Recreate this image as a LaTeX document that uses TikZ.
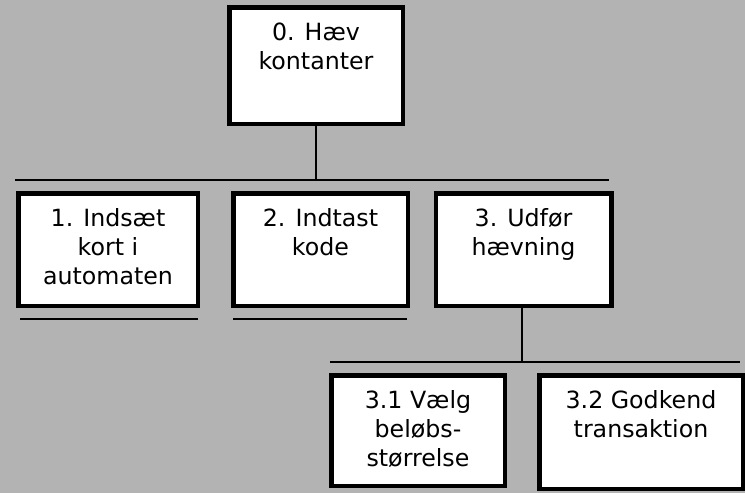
\documentclass[tikz,border=0pt]{standalone}
\usepackage{fontspec}
\setmainfont{DejaVu Sans}
\usepackage{tikz}
\usetikzlibrary{positioning}
\definecolor{panel}{RGB}{179,179,179}
\tikzstyle{task}=[draw=black,fill=white,line width=4.5pt,rectangle,inner sep=0pt]
\tikzstyle{tasktext}=[align=center,inner sep=0pt,font=\fontsize{23.7}{29}\selectfont]
\tikzstyle{rule}=[line width=2pt]

\begin{document}
\begin{tikzpicture}[x=1pt,y=-1pt]
        \useasboundingbox (0,0) rectangle (745,493);
        \fill[panel] (0,0) rectangle (745,493);
        % boxes
        \node[task,minimum width=173.5pt,minimum height=116.5pt] (b0) at (316,65.5) {};
        \node[task,minimum width=179.5pt,minimum height=112.5pt] (b1) at (108,249.5) {};
        \node[task,minimum width=174.5pt,minimum height=112.5pt] (b2) at (320.5,249.5) {};
        \node[task,minimum width=175.5pt,minimum height=112.5pt] (b3) at (523.5,249.5) {};
        \node[task,minimum width=173.5pt,minimum height=110.5pt] (b31) at (418,430.5) {};
        \node[task,minimum width=203.5pt,minimum height=113.5pt] (b32) at (641,432) {};
        % texts
        \node[tasktext,below=17.75pt of b0.north] (t0) {0. Hæv\\kontanter};
        \node[tasktext,below=17.75pt of b1.north] (t1) {1. Indsæt\\kort i\\automaten};
        \node[tasktext,below=17.75pt of b2.north] (t2) {2. Indtast\\kode};
        \node[tasktext,below=17.75pt of b3.north] (t3) {3. Udfør\\hævning};
        \node[tasktext,below=17.75pt of b31.north] (t31) {3.1 Vælg\\beløbs-\\størrelse};
        \node[tasktext,below=17.75pt of b32.north] (t32) {3.2 Godkend\\transaktion};
        % tree lines
        \coordinate (h1l) at (15,180);
        \coordinate (h1r) at (609,180);
        \coordinate (h2l) at (330,362);
        \coordinate (h2r) at (740,362);
        \coordinate (v3) at (522,362);
        \draw[rule] (h1l) -- (h1r);
        \draw[rule] (b0.south) -- (b0.south |- h1l);
        \draw[rule] (h2l) -- (h2r);
        \draw[rule] (b3.south -| v3) -- (v3);
        % underlines
        \coordinate (u1l) at (20,319);
        \coordinate (u1r) at (198,319);
        \coordinate (u2l) at (233,319);
        \coordinate (u2r) at (407,319);
        \draw[rule] (u1l) -- (u1r) (u2l) -- (u2r);
      \end{tikzpicture}
\end{document}
